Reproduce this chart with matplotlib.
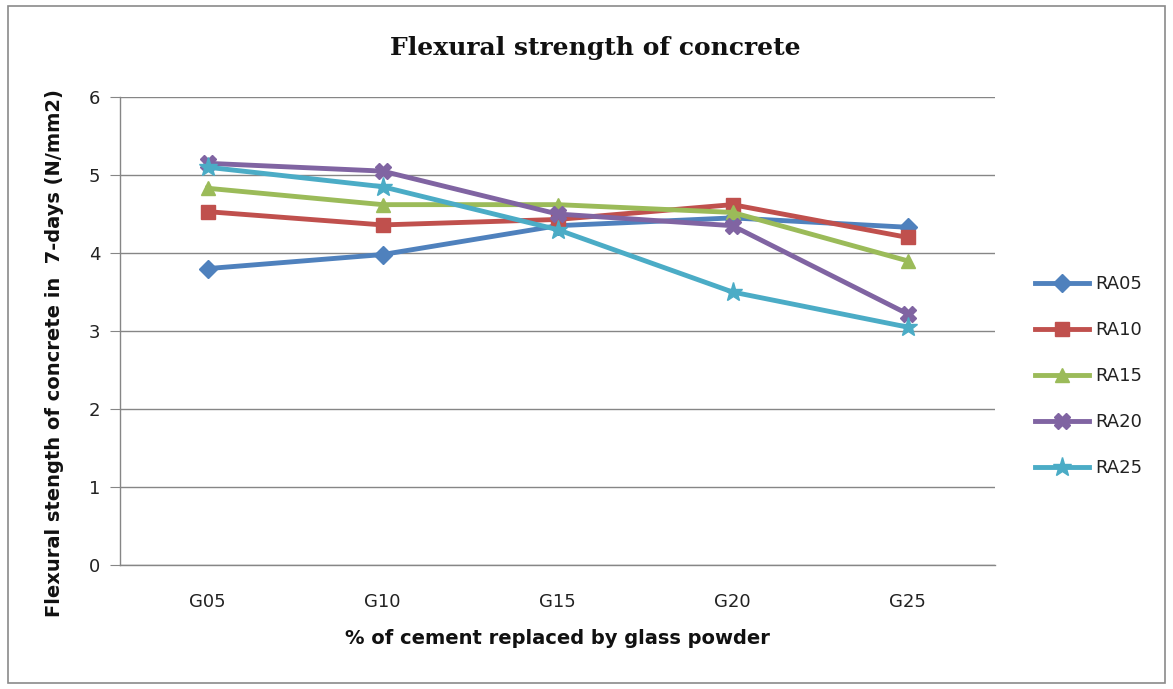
import matplotlib
matplotlib.use("Agg")
import matplotlib.pyplot as plt
from matplotlib.patches import Rectangle

categories = ["G05", "G10", "G15", "G20", "G25"]
series_names = ["RA05", "RA10", "RA15", "RA20", "RA25"]
ra05 = [3.80, 3.98, 4.35, 4.45, 4.33]
ra10 = [4.53, 4.36, 4.43, 4.62, 4.20]
ra15 = [4.83, 4.62, 4.62, 4.52, 3.90]
ra20 = [5.15, 5.05, 4.50, 4.35, 3.22]
ra25 = [5.10, 4.85, 4.30, 3.50, 3.05]
yticks = [0, 1, 2, 3, 4, 5, 6]

colors = ["#4F81BD", "#C0504D", "#9BBB59", "#8064A2", "#4BACC6"]
markers = ["D", "s", "^", "X", "*"]
msizes = [9, 10, 10, 11, 14]

SANS = "DejaVu Sans"
W, H = 1173, 689
fig = plt.figure(figsize=(W / 100, H / 100), dpi=100)
fig.patch.set_facecolor("white")

# outer chart border
fig.patches.append(Rectangle((8 / W, 6 / H), (1165 - 8) / W, (683 - 6) / H,
                             transform=fig.transFigure, fill=False,
                             edgecolor="#8a8a8a", linewidth=1.2))

ax = fig.add_axes([120 / W, 1 - 565 / H, (995 - 120) / W, (565 - 97) / H])
ax.set_facecolor("white")

x = list(range(len(categories)))
for name, vals, c, m, ms in zip(series_names, [ra05, ra10, ra15, ra20, ra25],
                                colors, markers, msizes):
    ax.plot(x, vals, color=c, linewidth=3.5, marker=m, markersize=ms,
            markerfacecolor=c, markeredgecolor=c, label=name, zorder=3)

ax.set_xlim(-0.5, len(categories) - 0.5)
ax.set_ylim(0, 6)
ax.set_yticks(yticks)
ax.set_xticks(x)
ax.set_xticklabels(categories)
ax.yaxis.grid(True, color="#868686", linewidth=1.0)
ax.set_axisbelow(True)

for side in ["top", "right"]:
    ax.spines[side].set_visible(False)
for side in ["left", "bottom"]:
    ax.spines[side].set_color("#868686")
    ax.spines[side].set_linewidth(1.0)

ax.tick_params(axis="y", length=7, color="#868686", labelsize=13, pad=7)
ax.tick_params(axis="x", length=0, labelsize=13, pad=20)
for lab in ax.get_xticklabels() + ax.get_yticklabels():
    lab.set_fontfamily(SANS)
    lab.set_color("#222222")

ax.set_xlabel("% of cement replaced by glass powder", fontfamily=SANS,
              fontsize=14, fontweight="bold", labelpad=13, color="#111111")
ax.set_ylabel("Flexural stength of concrete in  7-days (N/mm2)",
              fontfamily=SANS, fontsize=14, fontweight="bold",
              color="#111111")
ax.yaxis.set_label_coords(-0.064, 0.453)

fig.text(595 / W, 1 - 48 / H, "Flexural strength of concrete",
         ha="center", va="center", fontfamily="DejaVu Serif",
         fontsize=18, fontweight="bold", color="#111111")

leg = fig.legend(*ax.get_legend_handles_labels(), loc="center left",
                 bbox_to_anchor=(1028 / W, 1 - 376 / H), frameon=False,
                 prop={"family": SANS, "size": 13}, handlelength=3.0,
                 labelspacing=1.55, handletextpad=0.3, borderaxespad=0)
for t in leg.get_texts():
    t.set_color("#222222")

fig.savefig("out.png", dpi=100, facecolor="white")
